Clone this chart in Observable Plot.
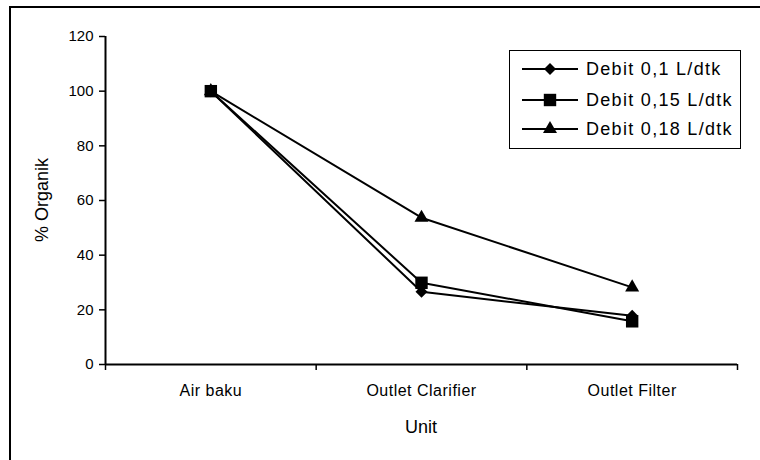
<!DOCTYPE html>
<html>
<head>
<meta charset="utf-8">
<script src="https://cdn.jsdelivr.net/npm/d3@7"></script>
<script src="https://cdn.jsdelivr.net/npm/@observablehq/plot@0.6"></script>
<style>
  html, body { margin: 0; padding: 0; background: #fff; overflow: hidden; }
  #wrap { position: relative; width: 760px; height: 460px; overflow: hidden; font-family: "Liberation Sans", Arial, sans-serif; }
  #frame { position: absolute; left: 9px; top: 6px; width: 900px; height: 700px; border-left: 2px solid #000; border-top: 2px solid #000; }
  #chart { position: absolute; left: 0; top: 0; }
  #chart svg text { font-size: 15px !important; }
  #chart svg g[aria-label="x-axis tick label"] text { font-size: 16px !important; letter-spacing: 0.5px; }
  .lbl { position: absolute; color: #000; white-space: nowrap; }
  #ylabel { left: 42px; top: 200px; transform: translate(-50%, -50%) rotate(-90deg); font-size: 18px; }
  #xlabel { left: 421px; top: 427px; transform: translate(-50%, -50%); font-size: 18px; }
  #legend { position: absolute; left: 509px; top: 50px; width: 230px; height: 97px; border: 1px solid #000; background: #fff; }
  .row { position: absolute; left: 12px; height: 24px; display: flex; align-items: center; }
  .row span { font-size: 18px; letter-spacing: 1.3px; margin-left: 8px; }
</style>
</head>
<body>
<div id="wrap">
  <div id="frame"></div>
  <div id="chart"></div>
  <div class="lbl" id="ylabel">% Organik</div>
  <div class="lbl" id="xlabel">Unit</div>
  <div id="legend"></div>
</div>
<script>
const categories = ["Air baku", "Outlet Clarifier", "Outlet Filter"];
const seriesNames = ["Debit 0,1 L/dtk", "Debit 0,15 L/dtk", "Debit 0,18 L/dtk"];
const debit01 = [100, 26.6, 17.8];
const debit015 = [100, 29.9, 15.8];
const debit018 = [100, 53.7, 28.2];
const yTicks = [0, 20, 40, 60, 80, 100, 120];

const seriesValues = [debit01, debit015, debit018];
const symbols = {"Debit 0,1 L/dtk": "diamond2", "Debit 0,15 L/dtk": "square", "Debit 0,18 L/dtk": "triangle"};
const markerR = {"Debit 0,1 L/dtk": 5.4, "Debit 0,15 L/dtk": 7.0, "Debit 0,18 L/dtk": 5.2};
const drawOrder = [2, 0, 1];

const rows = drawOrder.flatMap(si => seriesValues[si].map((v, i) => ({
  series: seriesNames[si], unit: categories[i], xi: i + 0.5, value: v
})));

const plot = Plot.plot({
  width: 760,
  height: 460,
  marginLeft: 105,
  marginRight: 23,
  marginTop: 36,
  marginBottom: 96,
  style: {fontFamily: "'Liberation Sans', Arial, sans-serif", fontSize: "15px", background: "transparent", color: "#000"},
  x: {domain: [0, categories.length]},
  y: {domain: [0, 120]},
  symbol: {domain: seriesNames, range: seriesNames.map(s => symbols[s])},
  r: {type: "identity"},
  marks: [
    Plot.axisY({ticks: yTicks, tickSize: 6, tickPadding: 6, label: null, strokeWidth: 1.5}),
    Plot.axisX({ticks: d3.range(categories.length + 1), tickFormat: () => "", tickSize: 6, label: null, strokeWidth: 1.5}),
    Plot.axisX({ticks: categories.map((c, i) => i + 0.5), tickFormat: t => categories[Math.floor(t)], tickSize: 0, tickPadding: 20, label: null}),
    Plot.ruleX([0], {stroke: "#000", strokeWidth: 2}),
    Plot.ruleY([0], {stroke: "#000", strokeWidth: 2}),
    Plot.line(rows, {x: "xi", y: "value", z: "series", stroke: "#000", strokeWidth: 2}),
    Plot.dot(rows, {x: "xi", y: "value", symbol: "series", r: d => markerR[d.series], fill: "#000", stroke: "none", sort: null})
  ]
});
document.getElementById("chart").appendChild(plot);

// legend
const legend = d3.select("#legend");
const rowTops = [6, 37, 66];
const symbolTypes = {"diamond2": d3.symbolDiamond2, "square": d3.symbolSquare, "triangle": d3.symbolTriangle};
seriesNames.forEach((name, i) => {
  const row = legend.append("div").attr("class", "row").style("top", rowTops[i] + "px");
  const svg = row.append("svg").attr("width", 56).attr("height", 24);
  svg.append("line").attr("x1", 0).attr("x2", 56).attr("y1", 12).attr("y2", 12).attr("stroke", "#000").attr("stroke-width", 2);
  const r = markerR[name];
  svg.append("path")
    .attr("transform", "translate(28,12)")
    .attr("d", d3.symbol(symbolTypes[symbols[name]], Math.PI * r * r)())
    .attr("fill", "#000");
  row.append("span").text(name);
});
</script>
</body>
</html>
